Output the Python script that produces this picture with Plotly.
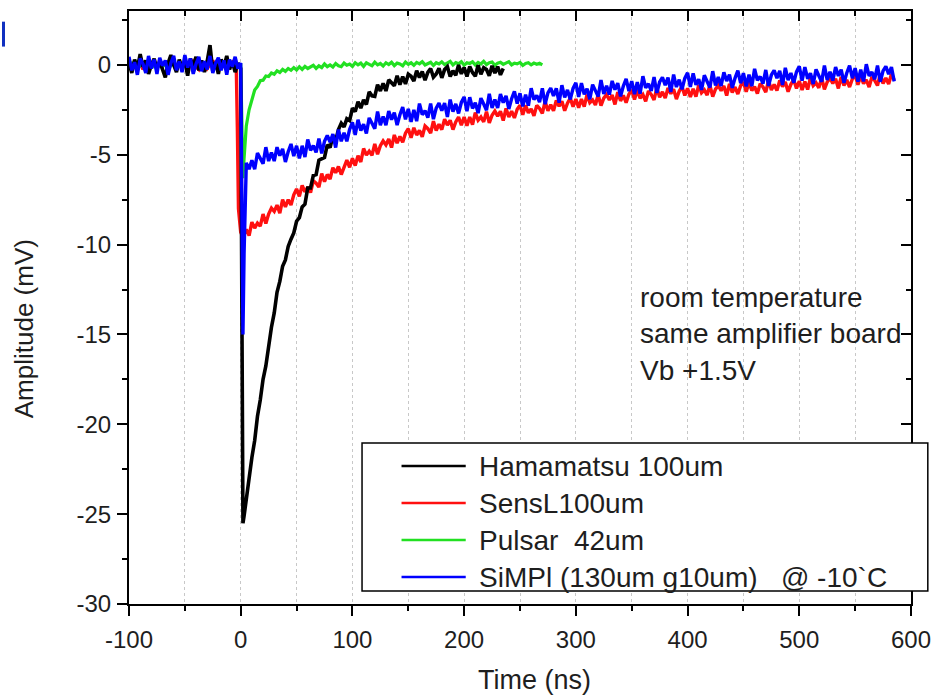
import plotly.graph_objects as go

# ---- sample times (ns) ----
T_BASE = [-100, -97.5, -95, -92.5, -90, -87.5, -85, -82.5, -80, -77.5,
          -75, -72.5, -70, -67.5, -65, -62.5, -60, -57.5, -55, -52.5,
          -50, -47.5, -45, -42.5, -40, -37.5, -35, -32.5, -30, -27.5,
          -25, -22.5, -20, -17.5, -15, -12.5, -10, -7.5, -5, -2.5]
T_TAIL = [5, 7.5, 10, 12.5, 15, 17.5, 20, 22.5, 25, 27.5,
          30, 32.5, 35, 37.5, 40, 42.5, 45, 47.5, 50, 52.5,
          55, 57.5, 60, 62.5, 65, 67.5, 70, 72.5, 75, 77.5,
          80, 82.5, 85, 87.5, 90, 92.5, 95, 97.5, 100, 102.5,
          105, 107.5, 110, 112.5, 115, 117.5, 120, 122.5, 125, 127.5,
          130, 132.5, 135, 137.5, 140, 142.5, 145, 147.5, 150, 152.5,
          155, 157.5, 160, 162.5, 165, 167.5, 170, 172.5, 175, 177.5,
          180, 182.5, 185, 187.5, 190, 192.5, 195, 197.5, 200, 202.5,
          205, 207.5, 210, 212.5, 215, 217.5, 220, 222.5, 225, 227.5,
          230, 232.5, 235, 237.5, 240, 242.5, 245, 247.5, 250, 252.5,
          255, 257.5, 260, 262.5, 265, 267.5, 270, 272.5, 275, 277.5,
          280, 282.5, 285, 287.5, 290, 292.5, 295, 297.5, 300, 302.5,
          305, 307.5, 310, 312.5, 315, 317.5, 320, 322.5, 325, 327.5,
          330, 332.5, 335, 337.5, 340, 342.5, 345, 347.5, 350, 352.5,
          355, 357.5, 360, 362.5, 365, 367.5, 370, 372.5, 375, 377.5,
          380, 382.5, 385, 387.5, 390, 392.5, 395, 397.5, 400, 402.5,
          405, 407.5, 410, 412.5, 415, 417.5, 420, 422.5, 425, 427.5,
          430, 432.5, 435, 437.5, 440, 442.5, 445, 447.5, 450, 452.5,
          455, 457.5, 460, 462.5, 465, 467.5, 470, 472.5, 475, 477.5,
          480, 482.5, 485, 487.5, 490, 492.5, 495, 497.5, 500, 502.5,
          505, 507.5, 510, 512.5, 515, 517.5, 520, 522.5, 525, 527.5,
          530, 532.5, 535, 537.5, 540, 542.5, 545, 547.5, 550, 552.5,
          555, 557.5, 560, 562.5, 565, 567.5, 570, 572.5, 575, 577.5,
          580, 582.5, 585]

# ---- Hamamatsu 100um (mV) ----
HAM_T_PULSE = [0, 1, 2, 3]
HAM_BASE = [0.1, -0.45, 0.3, -0.2, 0.6, -0.1, 0.25, -0.5, 0.0, 0.35,
            -0.2, 0.15, -0.25, -0.7, 0.1, 0.55, 0.0, -0.4, 0.3, -0.15,
            0.2, -0.6, 0.35, -0.1, 0.45, -0.3, 0.25, -0.4, 0.2, 1.1,
            -0.35, 0.15, -0.5, 0.3, -0.1, 0.5, -0.25, 0.2, -0.4, 0.1]
HAM_PULSE = [-0.2, -12.0, -25.5, -25.1]
HAM_TAIL = [-24.1, -23.15, -21.85, -20.9, -19.55, -18.65, -17.5, -16.75, -15.55, -14.6,
            -13.8, -12.65, -12.05, -11.2, -10.85, -10.1, -9.7, -9.35, -8.7, -8.5,
            -7.9, -7.75, -6.85, -6.85, -6.15, -6.1, -5.3, -5.25, -5.15, -4.45,
            -4.6, -3.95, -4.2, -3.6, -3.25, -3.45, -3.0, -3.1, -2.4, -2.6,
            -2.05, -2.4, -1.95, -2.2, -1.5, -1.72, -1.75, -1.1, -1.45, -1.02,
            -1.45, -0.83, -1.02, -1.16, -0.6, -1.1, -0.65, -1.06, -0.52, -0.63,
            -0.9, -0.32, -0.7, -0.37, -0.85, -0.42, -0.2, -0.68, -0.51, -0.19,
            -0.72, -0.26, -0.1, -0.64, -0.33, -0.57, -0.01, -0.5, -0.15, -0.64,
            -0.09, -0.43, -0.63, -0.02, -0.52, -0.16, -0.26, -0.61, -0.05, -0.45,
            -0.1, -0.55, -0.2]

# ---- SensL 100um (mV) ----
SENSL_T_PULSE = [-4, -3, -2, 0, 2]
SENSL_BASE = [0.1, -0.2, 0.15, -0.1, 0.2, -0.25, 0.05, 0.2, -0.15, 0.1,
              -0.2, 0.25, -0.1, 0.15, -0.25, 0.1, 0.2, -0.15, 0.1, -0.05,
              0.15, -0.2, 0.05, 0.2, -0.1, -0.25, 0.15, 0.1, -0.2, 0.05,
              0.25, -0.15, 0.1, -0.05, 0.2, -0.2, 0.0, 0.15, -0.1]
SENSL_PULSE = [0.0, -3.5, -8.0, -9.3, -9.6]
SENSL_TAIL = [-9.15, -9.5, -8.75, -9.08, -8.8, -8.97, -8.3, -8.83, -8.3, -7.97,
              -8.15, -7.8, -8.25, -7.5, -7.9, -7.5, -7.8, -7.23, -6.9, -7.32,
              -6.7, -7.07, -6.8, -7.1, -6.45, -6.58, -6.8, -6.05, -6.5, -6.1,
              -6.35, -5.72, -6.0, -5.65, -6.1, -5.63, -5.3, -5.7, -5.2, -5.6,
              -5.05, -5.4, -4.65, -5.02, -4.8, -5.03, -4.4, -4.97, -4.5, -4.23,
              -4.45, -4.12, -4.6, -3.9, -4.35, -3.98, -4.3, -3.8, -3.55, -4.05,
              -3.5, -3.9, -3.65, -4.0, -3.4, -3.55, -3.8, -3.13, -3.65, -3.3,
              -3.6, -3.02, -3.35, -3.08, -3.6, -3.17, -2.9, -3.35, -2.9, -3.38,
              -2.9, -3.32, -2.65, -3.08, -2.9, -3.17, -2.6, -3.23, -2.8, -2.57,
              -2.85, -2.58, -3.1, -2.42, -2.9, -2.58, -2.95, -2.47, -2.25, -2.78,
              -2.25, -2.67, -2.45, -2.83, -2.25, -2.42, -2.7, -2.03, -2.55, -2.22,
              -2.55, -1.98, -2.3, -2.02, -2.55, -2.13, -1.85, -2.32, -1.9, -2.38,
              -1.9, -2.32, -1.65, -2.1, -1.95, -2.23, -1.65, -2.27, -1.85, -1.65,
              -1.95, -1.68, -2.2, -1.52, -2.0, -1.7, -2.1, -1.63, -1.4, -1.92,
              -1.4, -1.85, -1.65, -2.03, -1.45, -1.65, -1.95, -1.27, -1.8, -1.5,
              -1.85, -1.28, -1.6, -1.35, -1.9, -1.47, -1.2, -1.7, -1.3, -1.79,
              -1.33, -1.77, -1.11, -1.55, -1.39, -1.68, -1.12, -1.76, -1.35, -1.14,
              -1.43, -1.17, -1.71, -1.05, -1.54, -1.23, -1.62, -1.16, -0.95, -1.49,
              -0.98, -1.42, -1.21, -1.6, -1.04, -1.23, -1.52, -0.86, -1.4, -1.09,
              -1.43, -0.87, -1.21, -0.95, -1.49, -1.08, -0.82, -1.31, -0.9, -1.39,
              -0.93, -1.37, -0.71, -1.15, -1.0, -1.28, -0.72, -1.36, -0.95, -0.74,
              -1.03, -0.77, -1.31, -0.66, -1.15, -0.84, -1.23, -0.78, -0.57, -1.11,
              -0.6, -1.04, -0.83, -1.23, -0.67, -0.86, -1.15, -0.5, -1.04, -0.73,
              -1.07, -0.51, -0.85]

# ---- Pulsar 42um (mV) ----
PULSAR_T_PULSE = [0, 1, 2, 3, 4]
PULSAR_BASE = [0.0, 0.1, -0.1, 0.15, -0.05, 0.1, -0.15, 0.05, 0.1, -0.1,
               0.0, 0.15, -0.1, 0.05, 0.1, -0.05, 0.1, -0.1, 0.05, 0.0,
               0.1, -0.05, 0.15, -0.1, 0.05, 0.0, 0.1, -0.15, 0.05, 0.1,
               -0.1, 0.0, 0.15, -0.05, 0.1, -0.1, 0.05, 0.1, -0.05, 0.0]
PULSAR_PULSE = [0.0, -3.0, -6.3, -5.2, -4.1]
PULSAR_TAIL = [-3.4, -2.5, -1.95, -1.4, -1.2, -0.88, -0.85, -0.62, -0.65, -0.45,
               -0.52, -0.33, -0.42, -0.25, -0.36, -0.2, -0.3, -0.15, -0.28, -0.1,
               -0.25, -0.08, -0.2, -0.12, -0.02, -0.2, -0.05, -0.15, 0.05, -0.1,
               0.0, -0.12, 0.08, -0.05, -0.1, 0.1, -0.02, 0.05, -0.08, 0.12,
               0.0, 0.1, -0.08, 0.12, 0.02, -0.05, 0.15, 0.0, 0.08, -0.06,
               0.12, 0.02, 0.15, -0.04, 0.1, 0.05, -0.05, 0.16, 0.03, 0.12,
               -0.02, 0.14, 0.06, 0.18, 0.0, 0.1, 0.15, -0.03, 0.12, 0.05,
               0.17, 0.02, 0.1, 0.2, 0.0, 0.13, 0.06, 0.18, -0.02, 0.12,
               0.08, 0.17, 0.0, 0.14, 0.05, 0.2, 0.02, 0.12, 0.16, -0.02,
               0.1, 0.15, 0.03, 0.12, 0.18, 0.0, 0.1, 0.06, 0.14, -0.03,
               0.08, 0.12, 0.0, 0.1, 0.04, 0.09, 0.0]

# ---- SiMPl 130um g10um @ -10C (mV) ----
SIMPL_T_PULSE = [0, 1, 2, 3, 4]
SIMPL_BASE = [0.45, -0.3, 0.15, -0.55, 0.35, 0.05, -0.45, 0.5, -0.2, 0.3,
              -0.5, 0.4, -0.05, 0.25, -0.55, 0.1, 0.5, -0.3, 0.2, -0.4,
              0.55, -0.15, 0.35, -0.5, 0.05, 0.45, -0.35, 0.2, -0.25, 0.5,
              -0.45, 0.1, 0.4, -0.3, 0.25, -0.55, 0.3, -0.1, 0.45, -0.2]
SIMPL_PULSE = [0.1, -7.0, -15.0, -10.5, -6.6]
SIMPL_TAIL = [-5.45, -5.8, -5.3, -5.8, -4.9, -5.2, -5.5, -4.58, -5.35, -4.87,
              -5.35, -4.58, -5.05, -4.67, -5.4, -4.83, -4.4, -5.07, -4.5, -5.2,
              -4.5, -5.13, -4.15, -4.75, -4.5, -4.87, -4.1, -4.92, -4.25, -3.93,
              -4.3, -3.85, -4.6, -3.6, -4.25, -3.77, -4.25, -3.58, -3.2, -3.9,
              -3.05, -3.65, -3.3, -3.82, -2.95, -3.25, -3.55, -2.6, -3.35, -2.87,
              -3.35, -2.57, -3.05, -2.65, -3.35, -2.77, -2.35, -3.03, -2.45, -3.17,
              -2.5, -3.13, -2.15, -2.77, -2.55, -2.93, -2.15, -3.02, -2.4, -2.13,
              -2.55, -2.12, -2.9, -1.93, -2.6, -2.17, -2.7, -2.09, -1.78, -2.57,
              -1.8, -2.42, -2.1, -2.68, -1.85, -2.18, -2.52, -1.61, -2.4, -1.92,
              -2.4, -1.62, -2.1, -1.72, -2.45, -1.88, -1.47, -2.15, -1.58, -2.31,
              -1.65, -2.27, -1.3, -1.93, -1.7, -2.07, -1.3, -2.18, -1.56, -1.29,
              -1.72, -1.31, -2.1, -1.13, -1.81, -1.39, -1.92, -1.31, -1.0, -1.78,
              -1.01, -1.64, -1.32, -1.91, -1.1, -1.43, -1.76, -0.84, -1.62, -1.16,
              -1.65, -0.89, -1.38, -1.01, -1.75, -1.18, -0.77, -1.46, -0.9, -1.63,
              -0.96, -1.6, -0.63, -1.27, -1.05, -1.44, -0.68, -1.56, -0.95, -0.69,
              -1.13, -0.71, -1.5, -0.54, -1.23, -0.82, -1.36, -0.75, -0.44, -1.23,
              -0.47, -1.11, -0.8, -1.39, -0.58, -0.92, -1.26, -0.35, -1.14, -0.68,
              -1.17, -0.41, -0.9, -0.54, -1.28, -0.73, -0.32, -1.02, -0.46, -1.2,
              -0.54, -1.18, -0.22, -0.86, -0.65, -1.04, -0.28, -1.17, -0.56, -0.3,
              -0.74, -0.33, -1.12, -0.16, -0.85, -0.45, -0.99, -0.39, -0.08, -0.88,
              -0.12, -0.77, -0.46, -1.06, -0.25, -0.6, -0.94, -0.04, -0.83, -0.38,
              -0.87, -0.12, -0.61, -0.26, -1.0, -0.45, -0.04, -0.74, -0.18, -0.93,
              -0.27, -0.92, 0.04, -0.61, -0.4, -0.8, -0.04, -0.94, -0.33, -0.08,
              -0.52, -0.12, -0.92]

NAMES = ["Hamamatsu 100um", "SensL100um", "Pulsar  42um",
         "SiMPl (130um g10um)  @ -10`C"]
COLORS = ["#000000", "#ff1010", "#22e022", "#0000ff"]

X_TICKS = [-100, 0, 100, 200, 300, 400, 500, 600]
Y_TICKS = [-30, -25, -20, -15, -10, -5, 0]
X_RANGE = [-100, 600]
Y_RANGE = [-30, 3.0]

FONT = "Arial, 'Liberation Sans', sans-serif"
TEXT_COLOR = "#1e1e1e"

series = {
    0: (T_BASE + HAM_T_PULSE + T_TAIL[:len(HAM_TAIL)],
        HAM_BASE + HAM_PULSE + HAM_TAIL),
    1: (T_BASE[:len(SENSL_BASE)] + SENSL_T_PULSE + T_TAIL[:len(SENSL_TAIL)],
        SENSL_BASE + SENSL_PULSE + SENSL_TAIL),
    2: (T_BASE + PULSAR_T_PULSE + T_TAIL[:len(PULSAR_TAIL)],
        PULSAR_BASE + PULSAR_PULSE + PULSAR_TAIL),
    3: (T_BASE + SIMPL_T_PULSE + T_TAIL[:len(SIMPL_TAIL)],
        SIMPL_BASE + SIMPL_PULSE + SIMPL_TAIL),
}
WIDTHS = [3.6, 3.4, 3.2, 3.4]

fig = go.Figure()
# drawing order: SensL, Pulsar, Hamamatsu, SiMPl on top
for idx in [1, 2, 0, 3]:
    t, v = series[idx]
    fig.add_trace(go.Scatter(x=t, y=v, mode="lines", name=NAMES[idx],
                             line=dict(color=COLORS[idx], width=WIDTHS[idx]),
                             showlegend=False))

# mirrored frame with inward ticks on top/right
fig.add_trace(go.Scatter(x=[X_RANGE[0]], y=[Y_RANGE[0]], xaxis="x2", yaxis="y2",
                         mode="markers", marker=dict(opacity=0), showlegend=False,
                         hoverinfo="skip"))

axis_common = dict(showline=True, linecolor="black", linewidth=2, zeroline=False,
                   tickcolor="black", tickwidth=1.5)

fig.update_layout(
    width=942, height=695,
    margin=dict(l=129, r=21, t=11, b=91),
    paper_bgcolor="white", plot_bgcolor="white",
    font=dict(family=FONT, color=TEXT_COLOR, size=24),
    xaxis=dict(range=X_RANGE, tickvals=X_TICKS, ticktext=[str(v) for v in X_TICKS],
               ticks="outside", ticklen=10, showgrid=True, gridcolor="#c8c8c8",
               griddash="dot", gridwidth=1,
               minor=dict(dtick=50, tick0=0, ticks="outside", ticklen=5,
                          tickcolor="black", showgrid=True, gridcolor="#c8c8c8",
                          griddash="dot", gridwidth=1),
               tickfont=dict(size=24, color=TEXT_COLOR), ticklabelstandoff=3,
               **axis_common),
    yaxis=dict(range=Y_RANGE, tickvals=Y_TICKS, ticktext=[str(v) for v in Y_TICKS],
               ticks="outside", ticklen=10, showgrid=False,
               minor=dict(dtick=2.5, tick0=0, ticks="outside", ticklen=5,
                          tickcolor="black", showgrid=False),
               tickfont=dict(size=24, color=TEXT_COLOR), ticklabelstandoff=1,
               **axis_common),
    xaxis2=dict(range=X_RANGE, overlaying="x", side="top", anchor="y2",
                tickvals=X_TICKS, showticklabels=False, ticks="inside", ticklen=10,
                showgrid=False,
                minor=dict(dtick=50, tick0=0, ticks="inside", ticklen=5,
                           tickcolor="black", showgrid=False),
                **axis_common),
    yaxis2=dict(range=Y_RANGE, overlaying="y", side="right", anchor="x2",
                tickvals=Y_TICKS, showticklabels=False, ticks="inside", ticklen=10,
                showgrid=False,
                minor=dict(dtick=2.5, tick0=0, ticks="inside", ticklen=5,
                           tickcolor="black", showgrid=False),
                **axis_common),
)

annotations = [
    dict(text="Time (ns)", x=0.519, y=-0.128, xref="paper", yref="paper",
         showarrow=False, xanchor="center", yanchor="middle",
         font=dict(size=27, family=FONT, color=TEXT_COLOR)),
    dict(text="Amplitude (mV)", x=-0.135, y=0.464, xref="paper", yref="paper",
         showarrow=False, textangle=-90, xanchor="center", yanchor="middle",
         font=dict(size=26, family=FONT, color=TEXT_COLOR)),
    dict(text="room temperature<br>same amplifier board<br>Vb +1.5V",
         x=0.6515, y=0.455, xref="paper", yref="paper", showarrow=False,
         xanchor="left", yanchor="middle", align="left",
         font=dict(size=28, family=FONT, color=TEXT_COLOR)),
]

shapes = [
    # legend frame
    dict(type="rect", xref="paper", yref="paper", x0=0.298, x1=1.0215,
         y0=0.0219, y1=0.2715, line=dict(color="black", width=1.5),
         fillcolor="white", layer="above"),
    # blue bracket fragment at the upper-left edge
    dict(type="line", xref="paper", yref="paper", x0=-0.1605, x1=-0.1605,
         y0=0.94, y1=0.982, line=dict(color="#1030c0", width=3)),
]

LEGEND_LABELS = ["Hamamatsu 100um", "SensL100um", "Pulsar&nbsp;&nbsp;42um",
                 "SiMPl (130um g10um)&nbsp;&nbsp;&nbsp;@ -10`C"]
row_y = [0.2327, 0.1703, 0.1079, 0.0455]
for i, label in enumerate(LEGEND_LABELS):
    shapes.append(dict(type="line", xref="paper", yref="paper",
                       x0=0.3485, x1=0.4306, y0=row_y[i], y1=row_y[i],
                       line=dict(color=COLORS[i], width=2.6), layer="above"))
    annotations.append(dict(text=label, x=0.445, y=row_y[i], xref="paper", yref="paper",
                            showarrow=False, xanchor="left", yanchor="middle",
                            font=dict(size=28, family=FONT, color=TEXT_COLOR)))

fig.update_layout(annotations=annotations, shapes=shapes)

fig.write_html("out.html")
